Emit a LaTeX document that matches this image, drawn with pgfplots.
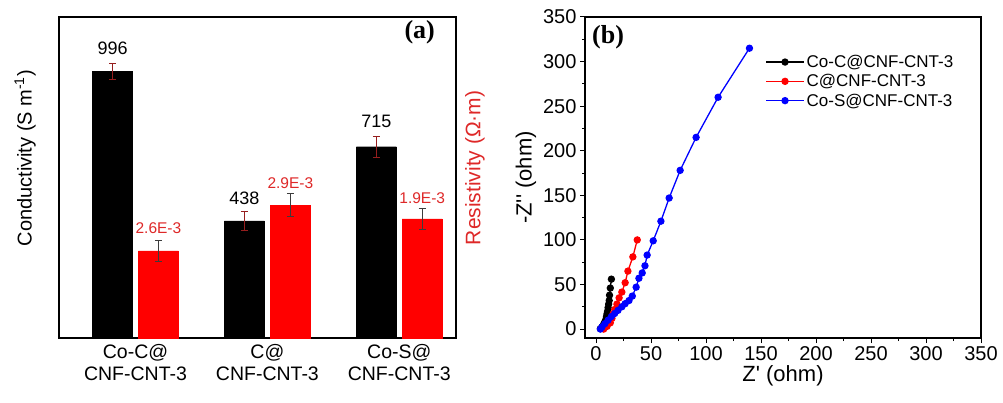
\documentclass[border=0pt]{standalone}
\usepackage{pgfplots}
\pgfplotsset{compat=1.18}
\usepackage{fontspec}
\setmainfont{Liberation Sans}
\newfontfamily\serifb{Liberation Serif}
\definecolor{barred}{RGB}{255,0,0}
\definecolor{labred}{RGB}{222,40,40}
\definecolor{errred}{RGB}{150,30,30}
\definecolor{errgray}{RGB}{60,60,60}
\definecolor{lblue}{RGB}{0,0,255}
\begin{document}
\begin{tikzpicture}
\path[use as bounding box] (0,0) rectangle (1003bp,403bp);
% ---------------- panel (a) ----------------
\begin{axis}[
  at={(59bp,65bp)}, anchor=south west, scale only axis,
  width=397bp, height=321bp,
  xmin=-0.58, xmax=2.43, ymin=0, ymax=1200,
  ytick=\empty, xtick={0,1,2},
  xticklabels={{Co-C@\\CNF-CNT-3},{C@\\CNF-CNT-3},{Co-S@\\CNF-CNT-3}},
  xticklabel style={align=center, font=\fontsize{19.5bp}{22bp}\selectfont, yshift=-3bp},
  major tick length=0pt,
  axis line style={line width=1.3bp},
  ylabel={Conductivity (S m\textsuperscript{-1})},
  ylabel style={at={(rel axis cs:-0.0856,0.56)}, anchor=center, font=\fontsize{20bp}{23bp}\selectfont},
  ybar, bar width=40bp, bar shift=0pt,
  clip=false,
]
\addplot[fill=black, draw=black,
  error bars/.cd, y dir=both, y explicit,
  error bar style={color=errred, line width=0.8bp},
  error mark options={rotate=90, mark size=3.5bp, color=errred, line width=0.8bp}]
  coordinates {(-0.174,996) +- (0,30) (0.826,438) +- (0,37) (1.826,715) +- (0,39)};
\node[font=\fontsize{18bp}{21bp}\selectfont] at (axis cs:-0.174,1084) {996};
\node[font=\fontsize{18bp}{21bp}\selectfont] at (axis cs:0.826,523) {438};
\node[font=\fontsize{18bp}{21bp}\selectfont] at (axis cs:1.826,811) {715};
\node[font=\serifb\bfseries\fontsize{26bp}{28bp}\selectfont] at (axis cs:2.155,1144) {(a)};
\end{axis}
\begin{axis}[
  at={(59bp,65bp)}, anchor=south west, scale only axis,
  width=397bp, height=321bp,
  xmin=-0.58, xmax=2.43, ymin=0, ymax=7,
  ytick=\empty, xtick=\empty,
  axis line style={draw=none},
  ylabel={Resistivity (Ω·m)},
  ylabel style={at={(rel axis cs:1.048,0.53)}, anchor=center, color=labred, font=\fontsize{21bp}{24bp}\selectfont},
  ybar, bar width=40bp, bar shift=0pt,
  clip=false,
]
\addplot[fill=barred, draw=barred,
  error bars/.cd, y dir=both, y explicit,
  error bar style={color=errgray, line width=0.8bp},
  error mark options={rotate=90, mark size=3.5bp, color=errgray, line width=0.8bp}]
  coordinates {(0.174,1.90) +- (0,0.22) (1.174,2.90) +- (0,0.25) (2.174,2.60) +- (0,0.23)};
\node[color=labred, font=\fontsize{15.5bp}{18bp}\selectfont] at (axis cs:0.174,2.40) {2.6E-3};
\node[color=labred, font=\fontsize{15.5bp}{18bp}\selectfont] at (axis cs:1.174,3.38) {2.9E-3};
\node[color=labred, font=\fontsize{15.5bp}{18bp}\selectfont] at (axis cs:2.174,3.05) {1.9E-3};
\end{axis}
% ---------------- panel (b) ----------------
\begin{axis}[
  at={(585bp,65bp)}, anchor=south west, scale only axis,
  width=396bp, height=321bp,
  xmin=-10, xmax=350, ymin=-10, ymax=350,
  xtick={0,50,...,350}, ytick={0,50,...,350},
  minor x tick num=1, minor y tick num=1,
  xtick pos=left, ytick pos=left, tick align=outside,
  major tick length=5bp, minor tick length=3bp,
  tick style={line width=1bp, color=black},
  axis line style={line width=1.3bp},
  /pgf/number format/assume math mode=true,
  ticklabel style={font=\fontsize{20bp}{23bp}\selectfont},
  xlabel={Z\textquotesingle{} (ohm)}, ylabel={-Z\textquotesingle\textquotesingle{} (ohm)},
  xlabel style={font=\fontsize{22bp}{25bp}\selectfont, yshift=2bp},
  ylabel style={font=\fontsize{22bp}{25bp}\selectfont},
  legend style={at={(rel axis cs:0.455,0.888)}, anchor=north west, draw=none, fill=none,
    font=\fontsize{17bp}{20bp}\selectfont, row sep=1.5bp, inner sep=0pt},
  legend cell align=left,
  legend image code/.code={\draw[mark repeat=2,mark phase=2,#1] plot coordinates {(0bp,0bp) (19bp,0bp) (38bp,0bp)};},
  clip=false,
]
\addplot[black, line width=1.3bp, mark=*, mark size=3bp] coordinates {
(4,0.5) (5.5,2.5) (7,5.5) (8,8) (9,11) (9.5,14) (10,17) (10.5,20) (11,24) (11.5,28) (12,32) (12.3,38) (13,46) (14,56)};
\addlegendentry{Co-C@CNF-CNT-3}
\addplot[barred, line width=1.3bp, mark=*, mark size=3bp] coordinates {
(7,0) (10,3) (13,7) (14.5,12) (15.5,17) (17,22) (19,28) (21,35) (23.5,41.5) (26.5,52) (29,65) (33.5,81) (37.5,100)};
\addlegendentry{C@CNF-CNT-3}
\addplot[lblue, line width=1.3bp, mark=*, mark size=3bp] coordinates {
(4,0) (5.5,2.5) (8,6) (11,10) (14,14) (17,17.5) (20,21) (23.5,25) (26.5,28.5) (30,32) (33,37) (36.5,47) (39,57) (42,63) (44.5,71) (46.5,83) (52,99) (59,121) (66.5,147) (76.5,178) (91,215) (111,260) (139.5,315)};
\addlegendentry{Co-S@CNF-CNT-3}
\node[font=\serifb\bfseries\fontsize{26bp}{28bp}\selectfont] at (axis cs:11,327) {(b)};
\end{axis}
\end{tikzpicture}
\end{document}
